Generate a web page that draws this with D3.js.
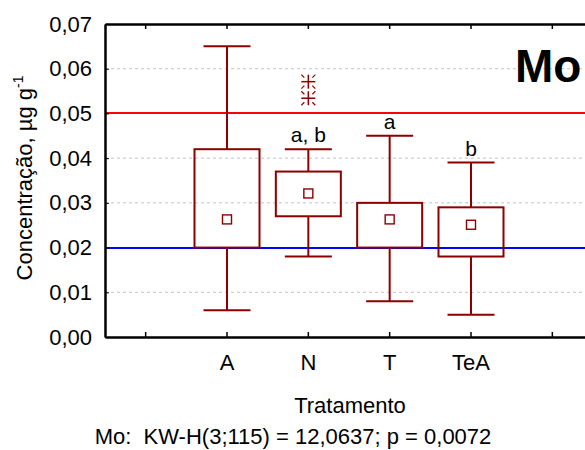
<!DOCTYPE html>
<html>
<head>
<meta charset="utf-8">
<script src="https://cdn.jsdelivr.net/npm/d3@7"></script>
<style>
  body { margin: 0; background: #fff; }
  svg { font-family: "Liberation Sans", Arial, sans-serif; }
</style>
</head>
<body>
<div id="chart"></div>
<script>
// data
const categories = ["A", "N", "T", "TeA"];
const whiskerHigh = [0.065, 0.042, 0.045, 0.039];
const boxHigh = [0.042, 0.037, 0.030, 0.029];
const medians = [0.0263, 0.0321, 0.0263, 0.0251];
const boxLow = [0.020, 0.027, 0.020, 0.018];
const whiskerLow = [0.006, 0.018, 0.008, 0.005];
const groupLetters = ["", "a, b", "a", "b"];
const outliers = [{ cat: "N", v: 0.0571 }, { cat: "N", v: 0.0534 }];
const yTicks = [0, 0.01, 0.02, 0.03, 0.04, 0.05, 0.06, 0.07];
const upperLimit = 0.05;
const lowerLimit = 0.02;

const W = 585, H = 450;
const margin = { top: 24, right: -8, bottom: 113, left: 105 };
const width = W - margin.left - margin.right;
const height = H - margin.top - margin.bottom;
const fontSize = 22;

const svg = d3.select("#chart").append("svg")
  .attr("width", W).attr("height", H);

const g = svg.append("g")
  .attr("transform", `translate(${margin.left},${margin.top})`);

// one empty slot on each side of the groups
const slots = ["pad0"].concat(categories, ["pad1"]);
const x = d3.scaleBand().domain(slots).range([0, width]);
const cx = c => x(c) + x.bandwidth() / 2;
const y = d3.scaleLinear().domain([0, 0.07]).range([height, 0]);
const fmt = d => d3.format(".2f")(d).replace(".", ",");

// grid
g.selectAll(".grid").data(yTicks.slice(1, -1)).enter().append("line")
  .attr("x1", 0).attr("x2", width)
  .attr("y1", d => y(d)).attr("y2", d => y(d))
  .attr("stroke", "#c4c4c4").attr("stroke-width", 1)
  .attr("stroke-dasharray", "3,3");

// limit lines
g.append("line").attr("x1", 0).attr("x2", width)
  .attr("y1", y(upperLimit)).attr("y2", y(upperLimit))
  .attr("stroke", "#ff0000").attr("stroke-width", 2)
  .attr("shape-rendering", "crispEdges");
g.append("line").attr("x1", 0).attr("x2", width)
  .attr("y1", y(lowerLimit)).attr("y2", y(lowerLimit))
  .attr("stroke", "#0000ff").attr("stroke-width", 2)
  .attr("shape-rendering", "crispEdges");

const boxColor = "#8b0000";
const boxW = 65, capW = 47;

const rows = categories.map((c, i) => ({
  c, wh: whiskerHigh[i], bh: boxHigh[i], med: medians[i],
  bl: boxLow[i], wl: whiskerLow[i], letter: groupLetters[i]
}));

const box = g.selectAll(".box").data(rows).enter().append("g").attr("class", "box")
  .attr("stroke", boxColor).attr("stroke-width", 2);

box.append("line")
  .attr("x1", d => cx(d.c)).attr("x2", d => cx(d.c))
  .attr("y1", d => y(d.wh)).attr("y2", d => y(d.bh));
box.append("line")
  .attr("x1", d => cx(d.c)).attr("x2", d => cx(d.c))
  .attr("y1", d => y(d.bl)).attr("y2", d => y(d.wl));
box.append("line")
  .attr("x1", d => cx(d.c) - capW / 2).attr("x2", d => cx(d.c) + capW / 2)
  .attr("y1", d => y(d.wh)).attr("y2", d => y(d.wh));
box.append("line")
  .attr("x1", d => cx(d.c) - capW / 2).attr("x2", d => cx(d.c) + capW / 2)
  .attr("y1", d => y(d.wl)).attr("y2", d => y(d.wl));
box.append("rect")
  .attr("x", d => cx(d.c) - boxW / 2).attr("width", boxW)
  .attr("y", d => y(d.bh)).attr("height", d => y(d.bl) - y(d.bh))
  .attr("fill", "none");
box.append("rect")
  .attr("x", d => cx(d.c) - 4.5).attr("width", 9)
  .attr("y", d => y(d.med) - 4.5).attr("height", 9)
  .attr("fill", "none").attr("stroke-width", 1.4);
box.append("text")
  .attr("x", d => cx(d.c)).attr("y", d => y(d.wh) - 7)
  .attr("stroke", "none").attr("fill", "#000")
  .attr("text-anchor", "middle").attr("font-size", 21)
  .text(d => d.letter);

// outliers drawn as asterisks
const star = g.selectAll(".out").data(outliers).enter().append("g")
  .attr("transform", d => `translate(${cx(d.cat)},${y(d.v)})`)
  .attr("stroke", boxColor);
star.append("line").attr("x1", -7).attr("x2", 7).attr("y1", 0).attr("y2", 0).attr("stroke-width", 1.5);
star.append("line").attr("x1", 0).attr("x2", 0).attr("y1", -7).attr("y2", 7).attr("stroke-width", 1.5);
[[1, 1], [1, -1], [-1, 1], [-1, -1]].forEach(([sx, sy]) => {
  star.append("line")
    .attr("x1", sx * 4).attr("y1", sy * 4)
    .attr("x2", sx * 7).attr("y2", sy * 7)
    .attr("stroke-width", 1.2);
});

// axes
const xAxis = d3.axisBottom(x).tickSizeInner(-5).tickSizeOuter(0).tickPadding(17)
  .tickFormat(d => d.startsWith("pad") ? "" : d);
const xAxisG = g.append("g").attr("transform", `translate(0,${height})`).call(xAxis);
xAxisG.select(".domain").attr("stroke", "#000").attr("stroke-width", 2.5);
xAxisG.selectAll(".tick line").attr("stroke", "#000").attr("stroke-width", 1.5);
xAxisG.selectAll("text").attr("font-size", fontSize).attr("fill", "#000")
  .style("font-family", "Liberation Sans, Arial, sans-serif");

const topAxisG = g.append("g").call(d3.axisTop(x).tickSizeInner(-5).tickSizeOuter(0).tickFormat(""));
topAxisG.select(".domain").attr("stroke", "#000").attr("stroke-width", 2.5);
topAxisG.selectAll(".tick line").attr("stroke", "#000").attr("stroke-width", 1.5);

const yAxisG = g.append("g").call(d3.axisLeft(y).tickValues(yTicks)
  .tickSizeInner(-4).tickSizeOuter(0).tickPadding(13).tickFormat(fmt));
yAxisG.select(".domain").attr("stroke", "#000").attr("stroke-width", 2.5);
yAxisG.selectAll(".tick line").attr("stroke", "#000").attr("stroke-width", 1);
yAxisG.selectAll("text").attr("font-size", fontSize).attr("fill", "#000")
  .style("font-family", "Liberation Sans, Arial, sans-serif");

// titles
const yt = svg.append("text")
  .attr("transform", `translate(32,178) rotate(-90)`)
  .attr("text-anchor", "middle").attr("font-size", fontSize);
yt.append("tspan").text("Concentração, µg g");
yt.append("tspan").attr("font-size", 14).attr("dy", -9).text("-1");

svg.append("text").attr("x", 350).attr("y", 413)
  .attr("text-anchor", "middle").attr("font-size", fontSize).text("Tratamento");

svg.append("text").attr("x", 293).attr("y", 444)
  .attr("text-anchor", "middle").attr("font-size", fontSize)
  .attr("xml:space", "preserve").style("white-space", "pre")
  .text("Mo:  KW-H(3;115) = 12,0637; p = 0,0072");

svg.append("text").attr("x", 515).attr("y", 82)
  .attr("font-size", 46).attr("font-weight", "bold").text("Mo");
</script>
</body>
</html>
